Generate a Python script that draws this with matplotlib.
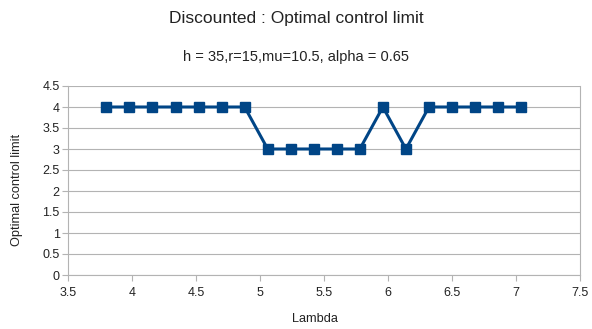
import matplotlib
matplotlib.use("Agg")
import matplotlib.pyplot as plt

lam = [3.8, 3.98, 4.16, 4.34, 4.52, 4.7, 4.88, 5.06, 5.24, 5.42, 5.6, 5.78,
       5.96, 6.14, 6.32, 6.5, 6.68, 6.86, 7.04]
limit = [4, 4, 4, 4, 4, 4, 4, 3, 3, 3, 3, 3, 4, 3, 4, 4, 4, 4, 4]
xticks = [3.5, 4, 4.5, 5, 5.5, 6, 6.5, 7, 7.5]
yticks = [0, 0.5, 1, 1.5, 2, 2.5, 3, 3.5, 4, 4.5]

plt.rcParams['font.family'] = ['Liberation Sans', 'DejaVu Sans']
fig = plt.figure(figsize=(5.92, 3.29), dpi=100)
ax = fig.add_axes([68/592, 1 - 275/329, (580 - 68)/592, (275 - 86)/329])

ax.plot(lam, limit, color='#004586', lw=2.2, marker='s', ms=7.5,
        markeredgecolor='#004586', markerfacecolor='#004586')
ax.set_xlim(3.5, 7.5)
ax.set_ylim(0, 4.5)
ax.set_xticks(xticks)
ax.set_xticklabels([f"{t:g}" for t in xticks])
ax.set_yticks(yticks)
ax.set_yticklabels([f"{t:g}" for t in yticks])
ax.grid(axis='y', color='#b3b3b3', lw=0.8)
ax.set_axisbelow(True)
for s in ax.spines.values():
    s.set_color('#b3b3b3')
    s.set_linewidth(0.8)
ax.spines['top'].set_visible(False)
ax.tick_params(axis='both', colors='#b3b3b3', labelcolor='#222222', length=4,
               width=0.8, labelsize=9)
ax.tick_params(axis='x', pad=5)
ax.tick_params(axis='y', pad=2)

fig.text(0.5, 1 - 19/329, 'Discounted : Optimal control limit', ha='center',
         va='center', fontsize=12.5, color='#222222')
fig.text(0.5, 1 - 57/329, 'h = 35,r=15,mu=10.5, alpha = 0.65', ha='center',
         va='center', fontsize=10.5, color='#222222')
fig.text(314.5/592, 1 - 319/329, 'Lambda', ha='center', va='center',
         fontsize=9.2, color='#222222')
fig.text(17/592, 1 - 190/329, 'Optimal control limit', ha='center',
         va='center', rotation=90, fontsize=9.2, color='#222222')

fig.savefig('out.png', dpi=100)
